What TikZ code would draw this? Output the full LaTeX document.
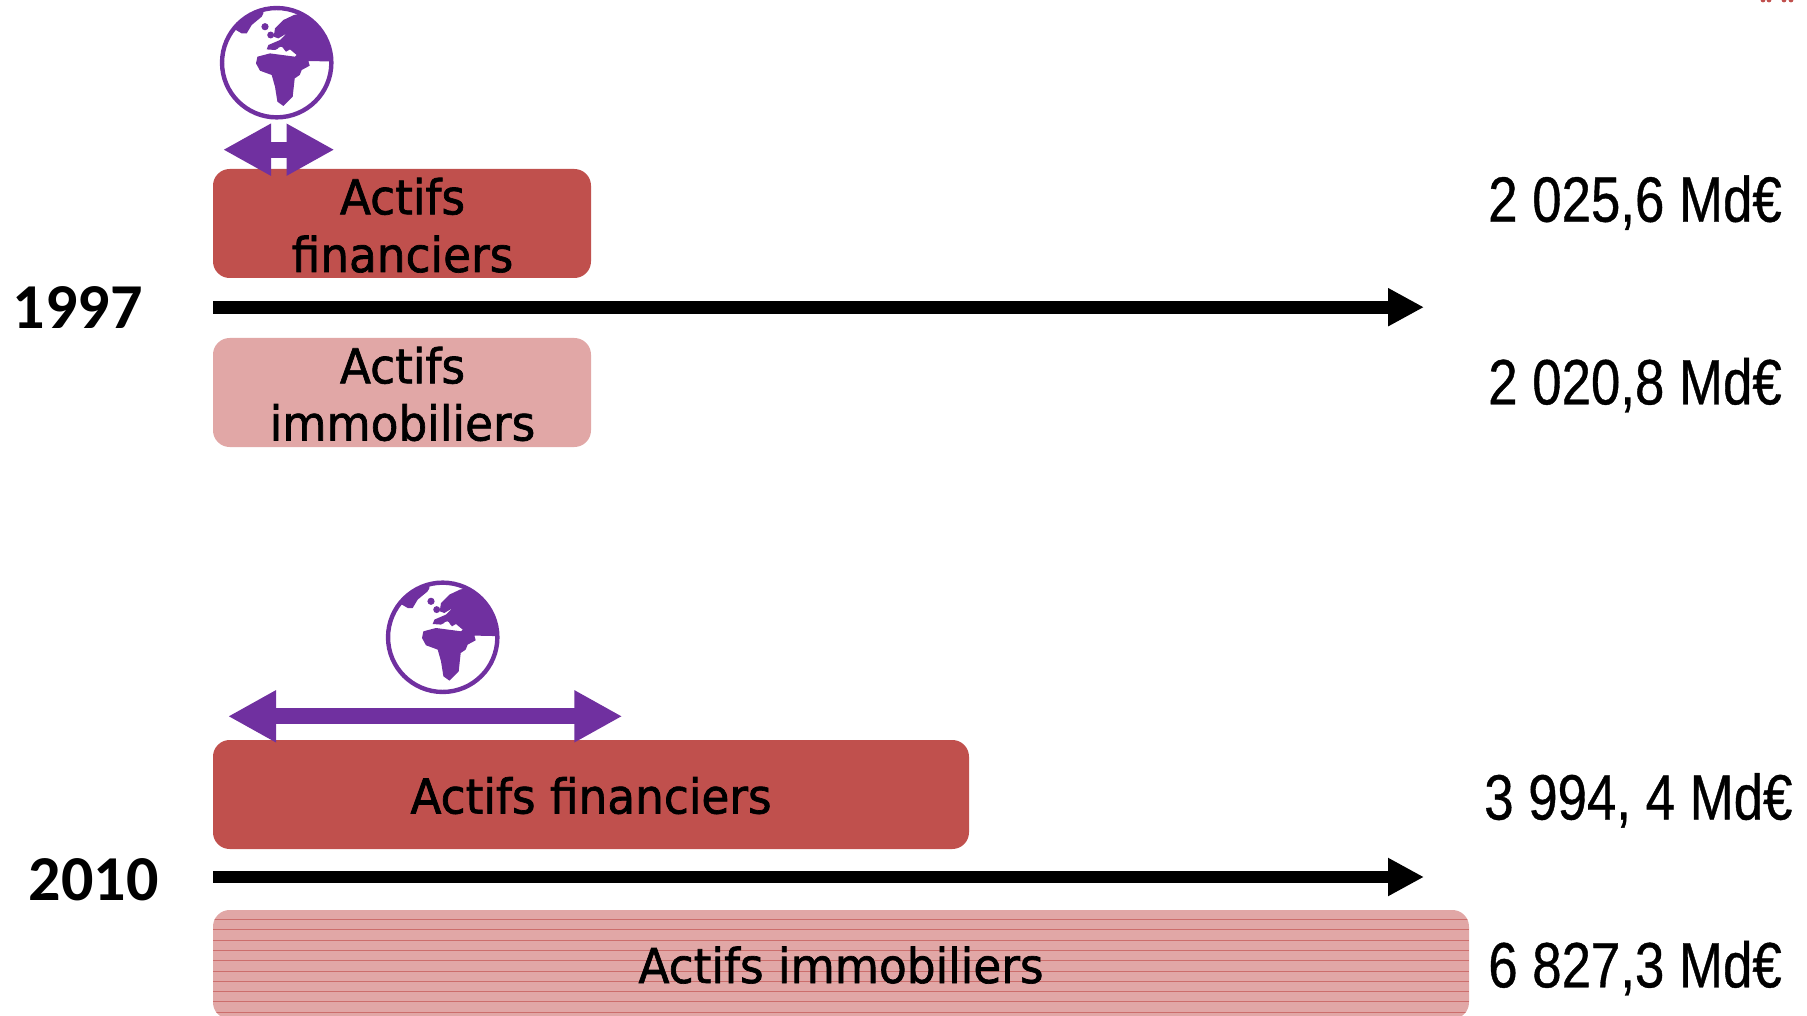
\documentclass[tikz,border=0pt]{standalone}
\usepackage{fontspec}
\setmainfont{DejaVu Sans}[FakeStretch=0.945,FakeBold=1.4]
\newfontfamily\yearfont{Carlito}
\newfontfamily\valfont{Liberation Sans}[FakeStretch=0.825,FakeBold=0.6]
\usetikzlibrary{arrows.meta}
\definecolor{redbox}{HTML}{C0504D}
\definecolor{pinkbox}{HTML}{E1A7A6}
\definecolor{stripe}{HTML}{CC6E6C}
\definecolor{purp}{HTML}{7030A0}
\tikzset{
  boxshape/.style={rectangle,rounded corners=12.5pt,draw=none,inner sep=0pt,minimum height=81.75pt},
  boxa/.style={boxshape,fill=redbox},
  boxb/.style={boxshape,fill=pinkbox},
  lab/.style={font=\fontsize{36}{42}\selectfont,text=black,inner sep=0pt,anchor=base},
  val/.style={font=\valfont\fontsize{48}{54}\selectfont,text=black,inner sep=0pt,anchor=base west},
  yr/.style={font=\yearfont\bfseries\fontsize{48}{54}\selectfont,text=black,inner sep=0pt,anchor=base west},
  axis/.style={line width=9.5pt,draw=black,-{Triangle[length=27pt,width=26.8pt]}},
  reach/.style={draw=purp,line width=12.2pt,{Triangle[length=36pt,width=36.5pt]}-{Triangle[length=36pt,width=36.5pt]}},
  globe/.pic={
    \begin{scope}
      \clip (0,0) circle[radius=41pt];
      \fill[purp] (17.3,-47.7) -- (56,-56) -- (63,-1) -- (31.7,-1.7) -- (33,3) -- (25,7.3) -- (23,12.3) -- (18,15.7) -- (16,34) -- (6.7,43.3) -- (0.7,39) -- (-1.7,24) -- (-5,12.3) -- (-16.7,8) -- (-20.7,0.7) -- (-19.3,-6) -- (-6.7,-9.3) -- (18.3,-6) -- (20,-7.7) -- (13.3,-13.3) -- (9.3,-11) -- (5,-16) -- (-1.7,-12.7) -- (-10,-13.3) -- (-8.3,-17.7) -- (3.3,-22.7) -- (10,-29.3) -- (1.7,-24.3) -- (-3,-26) -- (-1.7,-34.3) -- (6.7,-42.7) -- cycle;
      \fill[white] (4,-12.7) circle[radius=2.3pt];
      \fill[purp] (-6,-27.7) circle[radius=2.6pt];
      \fill[purp] (-11.7,-36) circle[radius=2.7pt];
      \fill[purp] (-35,-29.3) -- (-30,-29.3) -- (-25,-37.7) -- (-15,-46) -- (-13.3,-49.3) -- (-13,-56) -- (-57,-46) -- (-43,-34) -- cycle;
    \end{scope}
    \draw[purp,line width=3.3pt] (0,0) circle[radius=41pt];
  }
}
\begin{document}
\begin{tikzpicture}[x=0.75pt,y=-0.75pt]
  \useasboundingbox (0,0) rectangle (1807,1016);
  \clip (0,0) rectangle (1807,1016);
  % stray marks at top right
  \fill[redbox] (1763,0) circle[radius=1.8pt] (1769,0) circle[radius=1.8pt]
                (1784,0) circle[radius=1.8pt] (1791,0) circle[radius=1.8pt];
  % boxes
  \node[boxa,minimum width=283.5pt] (fin97) at (402,223.5) {};
  \node[boxb,minimum width=283.5pt] (imm97) at (402,392.5) {};
  \node[boxa,minimum width=567pt] (fin10) at (591,794.5) {};
  \node[boxb,minimum width=942pt] (imm10) at (841,964.5) {};
  \begin{scope}
    \clip[rounded corners=12.5pt] (213,910) rectangle (1469,1019);
    \foreach \yy in {919.5,929.8,940.2,950.4,960.8,971,981.3,991.6,1001.8,1012.2}
      \draw[stripe,line width=0.7pt] (213,\yy) -- (1469,\yy);
  \end{scope}
  % axes
  \coordinate (ax97s) at (213,307.2);
  \coordinate (ax97e) at (1424,307.2);
  \coordinate (ax10s) at (213,877);
  \coordinate (ax10e) at (1424,877);
  \draw[axis] (ax97s) -- (ax97e);
  \draw[axis] (ax10s) -- (ax10e);
  % reach arrows
  \coordinate (re97l) at (223,149.7);
  \coordinate (re97r) at (334.5,149.7);
  \coordinate (re10l) at (228,716.3);
  \coordinate (re10r) at (622.3,716.3);
  \draw[reach] (re97l) -- (re97r);
  \draw[reach] (re10l) -- (re10r);
  % globes
  \pic at (276.7,62.7) {globe};
  \pic at (442.7,637.3) {globe};
  % box labels
  \node[lab] (t1a) at (402.5,214.3) {Actifs};
  \node[lab] (t1b) at (402.5,272) {financiers};
  \node[lab] (t2a) at (402.5,383.3) {Actifs};
  \node[lab] (t2b) at (402.5,440.5) {immobiliers};
  \node[lab] (t3) at (591,813.5) {Actifs financiers};
  \node[lab] (t4) at (841,983) {Actifs immobiliers};
  % years
  \node[yr] (y97) at (12.5,329) {1997};
  \node[yr] (y10) at (28.5,900.5) {2010};
  % values
  \node[val] (v1) at (1488,221.7) {2 025,6 Md€};
  \node[val] (v2) at (1488,404.3) {2 020,8 Md€};
  \node[val] (v3) at (1484,819.5) {3 994, 4 Md€};
  \node[val] (v4) at (1488,987.3) {6 827,3 Md€};
\end{tikzpicture}
\end{document}
